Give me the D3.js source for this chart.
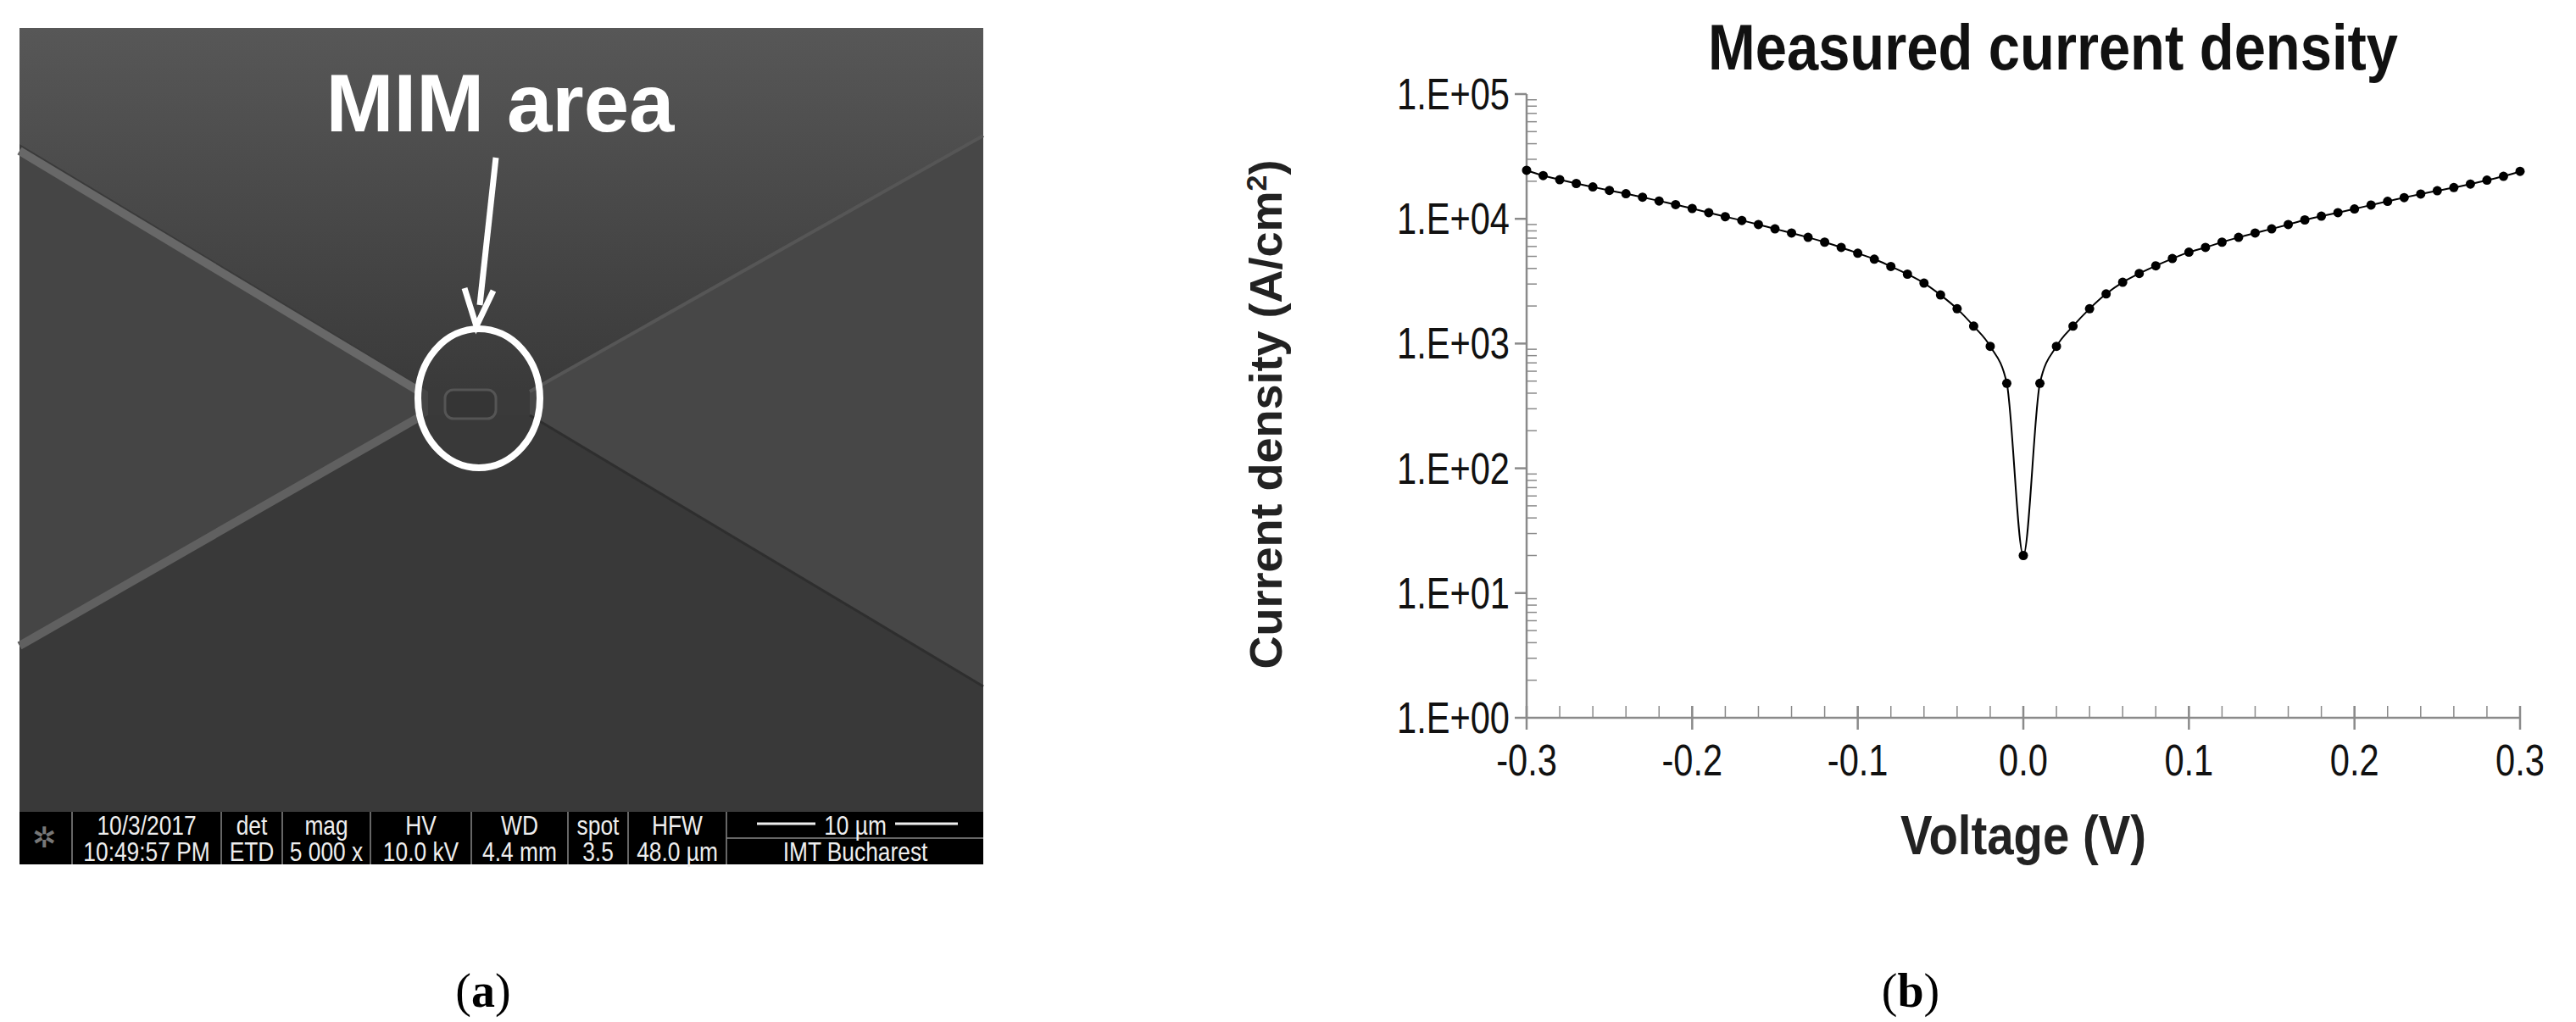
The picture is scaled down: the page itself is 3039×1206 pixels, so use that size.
<!DOCTYPE html>
<html><head><meta charset="utf-8">
<script src="https://cdn.jsdelivr.net/npm/d3@7"></script>
<style>body{margin:0;background:#fff}svg{display:block}</style>
</head><body>
<script>
const voltage = [-0.30,-0.29,-0.28,-0.27,-0.26,-0.25,-0.24,-0.23,-0.22,-0.21,-0.20,-0.19,-0.18,-0.17,-0.16,-0.15,-0.14,-0.13,-0.12,-0.11,-0.10,-0.09,-0.08,-0.07,-0.06,-0.05,-0.04,-0.03,-0.02,-0.01,0.00,
 0.01,0.02,0.03,0.04,0.05,0.06,0.07,0.08,0.09,0.10,0.11,0.12,0.13,0.14,0.15,0.16,0.17,0.18,0.19,0.20,0.21,0.22,0.23,0.24,0.25,0.26,0.27,0.28,0.29,0.30];
const currentDensity = [24500,22200,20600,19200,18000,16900,15900,14900,13900,13000,12100,11200,10400,9700,9000,8300,7700,7100,6500,5900,5300,4750,4150,3600,3050,2450,1900,1380,950,480,20,
 480,950,1380,1900,2500,3100,3650,4200,4800,5400,5900,6500,7100,7700,8300,9000,9800,10500,11200,12000,12900,13800,14800,15800,16800,17800,19000,20400,21900,24000];
const yTickLabels = ["1.E+00","1.E+01","1.E+02","1.E+03","1.E+04","1.E+05"];
const xTickValues = [-0.3,-0.2,-0.1,0.0,0.1,0.2,0.3];
const infoTop = ["10/3/2017","det","mag","HV","WD","spot","HFW"];
const infoBottom = ["10:49:57 PM","ETD","5 000 x","10.0 kV","4.4 mm","3.5","48.0 µm"];

const W=3039,H=1206;
const svg=d3.select("body").append("svg").attr("width",W).attr("height",H);
const SF="Liberation Sans, Arial, sans-serif";
function ntext(g,x0,y0,s,size,anchor,fill,sx,bold){
  return g.append("text").attr("transform",`translate(${x0},${y0}) scale(${sx},1)`).attr("text-anchor",anchor)
   .attr("font-family",SF).attr("font-size",size).attr("font-weight",bold?"bold":"normal").attr("fill",fill).text(s);
}

// ---------- Panel (a): SEM image ----------
const L=23,R=1160,T=33,B=958;
const cx=565,cy=470;
const a=svg.append("g");
const defs=svg.append("defs");
const g1=defs.append("linearGradient").attr("id","topg").attr("x1",0).attr("y1",0).attr("x2",0).attr("y2",1);
g1.append("stop").attr("offset",0).attr("stop-color","#575757");
g1.append("stop").attr("offset",1).attr("stop-color","#3a3a3a");
a.append("rect").attr("x",L).attr("y",T).attr("width",R-L).attr("height",B-T).attr("fill","#3a3a3a");
const poly=(pts,fill)=>a.append("path").attr("d",d3.line()(pts)+"Z").attr("fill",fill);
poly([[L,T],[R,T],[R,160],[cx+60,cy-10],[cx-60,cy-10],[L,170]],"url(#topg)");
poly([[L,175],[cx-60,cy-8],[cx-60,cy+20],[L,760]],"#454545");
poly([[R,160],[cx+60,cy-10],[cx+60,cy+20],[R,810]],"#474747");
poly([[L,760],[cx-60,cy+20],[cx+60,cy+20],[R,810],[R,B],[L,B]],"#393939");
const ln=(p,w,c)=>a.append("path").attr("d",d3.line()(p)).attr("stroke",c).attr("stroke-width",w).attr("fill","none");
ln([[L,178],[cx-70,cy-8]],10,"#686868");
ln([[L,762],[cx-70,cy+22]],10,"#606060");
ln([[R,160],[cx+60,cy-8]],4,"#565656");
ln([[R,810],[cx+60,cy+20]],3,"#2e2e2e");
a.append("rect").attr("x",cx-40).attr("y",cy-10).attr("width",60).attr("height",34).attr("rx",10).attr("fill","#353535").attr("stroke","#555").attr("stroke-width",3);
a.append("ellipse").attr("cx",cx).attr("cy",cy).attr("rx",72).attr("ry",82).attr("fill","none").attr("stroke","#fff").attr("stroke-width",8);
a.append("text").attr("x",590).attr("y",155).attr("text-anchor","middle").attr("font-family",SF).attr("font-weight","bold").attr("font-size",96).attr("fill","#fff").text("MIM area");
ln([[585,186],[566,360]],7,"#fff");
a.append("path").attr("d",`M${548},${340} L${562},${385} L${582},${343}`).attr("stroke","#fff").attr("stroke-width",7).attr("fill","none");
a.append("rect").attr("x",L).attr("y",B).attr("width",R-L).attr("height",62).attr("fill","#000");
const divs=[85,261,333,437,556,670,741,857];
divs.forEach(x=>a.append("line").attr("x1",x).attr("x2",x).attr("y1",B).attr("y2",B+62).attr("stroke","#888").attr("stroke-width",1.5));
a.append("line").attr("x1",857).attr("x2",R).attr("y1",B+31).attr("y2",B+31).attr("stroke","#888").attr("stroke-width",1.5);
const bounds=[[85,261],[261,333],[333,437],[437,556],[556,670],[670,741],[741,857]];
bounds.forEach((b,i)=>{
  ntext(a,(b[0]+b[1])/2,B+27,infoTop[i],31,"middle","#eee",0.85);
  ntext(a,(b[0]+b[1])/2,B+58,infoBottom[i],31,"middle","#eee",0.85);
});
ntext(a,1009,B+27,"10 µm",31,"middle","#eee",0.85);
ln([[893,B+14],[962,B+14]],3,"#eee");ln([[1056,B+14],[1130,B+14]],3,"#eee");
ntext(a,1009,B+58,"IMT Bucharest",31,"middle","#eee",0.85);
a.append("text").attr("x",52).attr("y",B+42).attr("text-anchor","middle").attr("font-size",34).attr("fill","#777").text("✲");

svg.append("text").attr("x",570).attr("y",1188).attr("text-anchor","middle").attr("font-family","Liberation Serif, serif").attr("font-size",56).attr("fill","#000").html('(<tspan font-weight="bold">a</tspan>)');
svg.append("text").attr("x",2254).attr("y",1188).attr("text-anchor","middle").attr("font-family","Liberation Serif, serif").attr("font-size",56).attr("fill","#000").html('(<tspan font-weight="bold">b</tspan>)');

// ---------- Panel (b): chart ----------
const x=d3.scaleLinear().domain([-0.3,0.3]).range([1801,2973]);
const y=d3.scaleLog().domain([1,1e5]).range([847,111]);
const c=svg.append("g");
const ax="#8a8a8a";
c.append("line").attr("x1",x(-0.3)).attr("x2",x(-0.3)).attr("y1",y(1e5)).attr("y2",y(1)).attr("stroke",ax).attr("stroke-width",2.5);
const minor=[];for(let e=0;e<5;e++)for(let m=2;m<=9;m++)minor.push(m*Math.pow(10,e));
minor.forEach(v=>c.append("line").attr("x1",x(-0.3)).attr("x2",x(-0.3)+12).attr("y1",y(v)).attr("y2",y(v)).attr("stroke",ax).attr("stroke-width",1.5));
yTickLabels.forEach((t,i)=>{const v=Math.pow(10,i);
  c.append("line").attr("x1",x(-0.3)-14).attr("x2",x(-0.3)).attr("y1",y(v)).attr("y2",y(v)).attr("stroke",ax).attr("stroke-width",2.5);
  ntext(c,x(-0.3)-20,y(v)+18,t,52,"end","#111",0.8);});
c.append("line").attr("x1",x(-0.3)).attr("x2",x(0.3)).attr("y1",y(1)).attr("y2",y(1)).attr("stroke",ax).attr("stroke-width",2.5);
d3.range(-30,31,2).forEach(k=>{const v=k/100;
  c.append("line").attr("x1",x(v)).attr("x2",x(v)).attr("y1",y(1)-14).attr("y2",y(1)).attr("stroke",ax).attr("stroke-width",1.5);});
xTickValues.forEach(v=>{
  c.append("line").attr("x1",x(v)).attr("x2",x(v)).attr("y1",y(1)-14).attr("y2",y(1)+14).attr("stroke",ax).attr("stroke-width",2.5);
  ntext(c,x(v),y(1)+68,v.toFixed(1),52,"middle","#111",0.8);});
const pts=voltage.map((v,i)=>[x(v),y(currentDensity[i])]);
c.append("path").attr("d",d3.line().curve(d3.curveMonotoneX)(pts)).attr("fill","none").attr("stroke","#000").attr("stroke-width",2);
c.selectAll("circle.p").data(pts).join("circle").attr("cx",d=>d[0]).attr("cy",d=>d[1]).attr("r",5.5).attr("fill","#000");
ntext(c,2422,82,"Measured current density",76,"middle","#111",0.88,true);
ntext(c,2387,1008,"Voltage (V)",64,"middle","#222",0.88,true);
c.append("text").attr("transform",`translate(1512,${(111+847)/2+10}) rotate(-90)`).attr("text-anchor","middle").attr("font-family",SF).attr("font-weight","bold").attr("font-size",54).attr("fill","#222")
 .html('Current density (A/cm<tspan dy="-18" font-size="34">2</tspan><tspan dy="18">)</tspan>');
</script>
</body></html>
